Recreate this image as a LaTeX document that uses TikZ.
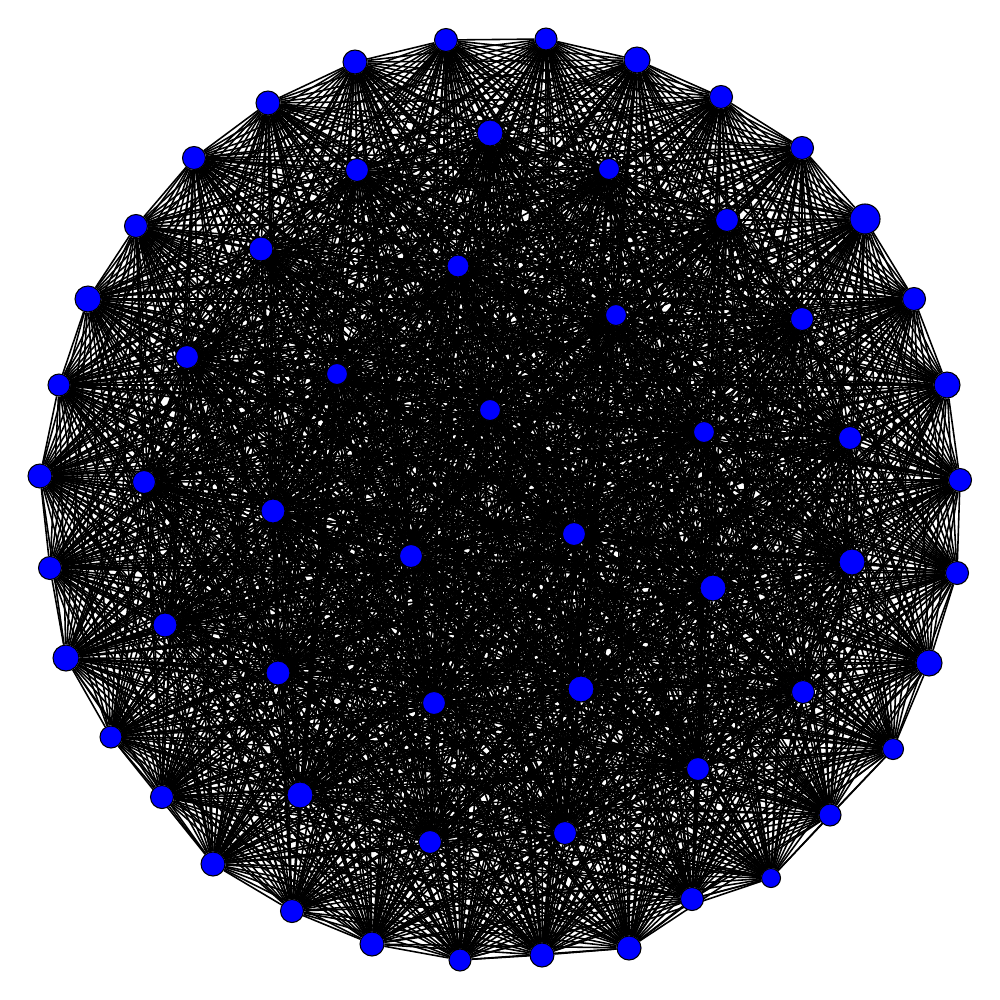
\documentclass[tikz,border=0pt]{standalone}
\pgfdeclarelayer{bg}
\pgfsetlayers{bg,main}
\tikzset{
  vert/.style={circle,draw=black,line width=0.3pt,fill=blue,inner sep=0pt},
  edge/.style={draw=black,line width=0.45pt}
}
\begin{document}
\begin{tikzpicture}[x=0.01cm,y=-0.01cm]
\useasboundingbox (0,0) rectangle (1000,1000);
\foreach \i/\px/\py/\r in {
1/446/40/11.5, 2/546/39/11, 3/637/60/13, 4/721/97/11.5, 5/802/148/11.5,
6/865/219/15, 7/914/299/11.5, 8/947/385/13, 9/960/480/11.5, 10/957/573/11.5,
11/929/663/13, 12/893/749/10.5, 13/830/815/11, 14/771/878/9.5, 15/692/899/11.5,
16/629/948/12, 17/542/955/12, 18/460/960/11, 19/372/944/12, 20/292/911/11.5,
21/213/864/12, 22/162/797/11.5, 23/111/737/11, 24/66/658/13, 25/50/568/11.5,
26/40/476/12, 27/59/385/11, 28/88/299/13, 29/136/226/11.5, 30/194/158/11.5,
31/268/103/12, 32/355/62/12, 33/490/133/13, 34/609/169/10.5, 35/357/170/11.5,
36/727/220/11.5, 37/261/249/12, 38/458/266/11, 39/616/315/10.5, 40/802/319/11.5,
41/187/357/11.5, 42/337/374/10.5, 43/490/410/10.5, 44/704/432/10.5, 45/850/438/11.5,
46/144/482/11.5, 47/273/511/12, 48/574/534/11.5, 49/411/556/11.5, 50/852/562/13,
51/713/588/13, 52/165/625/12, 53/278/673/12, 54/581/689/13, 55/803/692/11.5,
56/434/703/11.5, 57/698/769/11.5, 58/300/795/13, 59/565/833/11.5, 60/430/842/11.5}
{
  \pgfmathsetmacro\d{\r*0.02}
  \node[vert,minimum size=\d cm] (n\i) at (\px,\py) {};
}
\begin{pgfonlayer}{bg}
\foreach \i in {1,...,60}{
  \foreach \j in {1,...,60}{
    \ifnum\j>\i
      \ifnum\i=14 \ifnum\j=16 \else \path[edge] (n\i) -- (n\j); \fi
      \else \path[edge] (n\i) -- (n\j); \fi
    \fi
  }
}
\end{pgfonlayer}
\end{tikzpicture}
\end{document}
